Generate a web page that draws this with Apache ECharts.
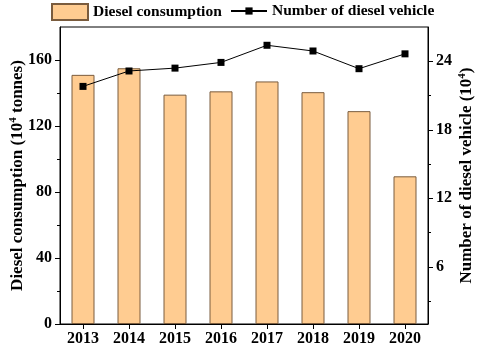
<!DOCTYPE html>
<html>
<head>
<meta charset="utf-8">
<script src="https://cdn.jsdelivr.net/npm/echarts@6/dist/echarts.min.js"></script>
<style>html,body{margin:0;padding:0;background:#fff}#c{width:477px;height:348px}</style>
</head>
<body>
<div id="c"></div>
<script>
var years = ['2013','2014','2015','2016','2017','2018','2019','2020'];
var dieselConsumption = [151, 155, 139, 141, 147, 140.5, 129, 89.5];
var dieselVehicles = [21.8, 23.15, 23.4, 23.9, 25.4, 24.9, 23.35, 24.65];
var leftMajorTicks = [0, 40, 80, 120, 160];
var leftMinorTicks = [20, 60, 100, 140];
var rightMajorTicks = [6, 12, 18, 24];
var rightMinorTicks = [3, 9, 15, 21];

var FONT = 'Liberation Serif';
var txt = {fontFamily: FONT, fontWeight: 'bold', fontSize: 16, color: '#000'};
var axisLine = {show: true, lineStyle: {color: '#000', width: 1}};
var nameRich = {
  a: {fontFamily: FONT, fontWeight: 'bold', fontSize: 17, color: '#000', lineHeight: 20},
  s: {fontFamily: FONT, fontWeight: 'bold', fontSize: 11, color: '#000', lineHeight: 20, verticalAlign: 'top', padding: [0, 0, 7, 0]}
};
var legendText = {fontFamily: FONT, fontWeight: 'bold', fontSize: 15.5, color: '#000'};

var chart = echarts.init(document.getElementById('c'), null, {renderer: 'canvas'});
chart.setOption({
  animation: false,
  backgroundColor: '#fff',
  grid: {left: 60, right: 49, top: 27, bottom: 24, show: true, borderColor: '#000', borderWidth: 1,
         containLabel: false, outerBoundsMode: 'none'},
  legend: [
    {
      left: 51, top: 3, padding: 0, itemWidth: 36, itemHeight: 16, itemGap: 10,
      textStyle: legendText,
      data: [{name: 'Diesel consumption', icon: 'rect'}]
    },
    {
      left: 230, top: 3, padding: 0, itemWidth: 36, itemHeight: 9, itemGap: 10,
      textStyle: legendText,
      data: [{name: 'Number of diesel vehicle'}]
    }
  ],
  xAxis: {
    type: 'category', data: years, boundaryGap: true,
    axisLine: axisLine,
    axisTick: {show: true, alignWithLabel: true, length: 5, lineStyle: {color: '#000'}},
    axisLabel: Object.assign({margin: 7}, txt),
    splitLine: {show: false}
  },
  yAxis: [
    {
      type: 'value', position: 'left', min: 0, max: 180,
      name: '{a|Diesel consumption (10}{s|4}{a| tonnes)}',
      nameLocation: 'middle', nameGap: 32, nameRotate: 90, nameMoveOverlap: false,
      nameTextStyle: {rich: nameRich},
      axisLine: axisLine,
      axisTick: {show: true, length: 5, customValues: leftMajorTicks, lineStyle: {color: '#000'}},
      axisLabel: Object.assign({margin: 8, customValues: leftMajorTicks}, txt),
      splitLine: {show: false}
    },
    {
      type: 'value', position: 'left', min: 0, max: 180,
      axisLine: {show: false},
      axisTick: {show: true, length: 3, customValues: leftMinorTicks, lineStyle: {color: '#000'}},
      axisLabel: {show: false},
      splitLine: {show: false}
    },
    {
      type: 'value', position: 'right', min: 1, max: 27,
      name: '{a|Number of diesel vehicle (10}{s|4}{a|)}',
      nameLocation: 'middle', nameGap: 29, nameRotate: 90, nameMoveOverlap: false,
      nameTextStyle: {rich: nameRich},
      axisLine: axisLine,
      axisTick: {show: true, length: 5, customValues: rightMajorTicks, lineStyle: {color: '#000'}},
      axisLabel: Object.assign({margin: 8, customValues: rightMajorTicks}, txt),
      splitLine: {show: false}
    },
    {
      type: 'value', position: 'right', min: 1, max: 27,
      axisLine: {show: false},
      axisTick: {show: true, length: 3, customValues: rightMinorTicks, lineStyle: {color: '#000'}},
      axisLabel: {show: false},
      splitLine: {show: false}
    }
  ],
  series: [
    {
      name: 'Diesel consumption', type: 'bar', yAxisIndex: 0, data: dieselConsumption,
      barWidth: '50%',
      itemStyle: {color: '#FFCC91', borderColor: '#7a5c3e', borderWidth: 1, borderRadius: 0}
    },
    {
      name: 'Number of diesel vehicle', type: 'line', yAxisIndex: 2, data: dieselVehicles,
      symbol: 'rect', symbolSize: 7,
      lineStyle: {color: '#000', width: 1},
      itemStyle: {color: '#000'}
    }
  ]
});
</script>
</body>
</html>
